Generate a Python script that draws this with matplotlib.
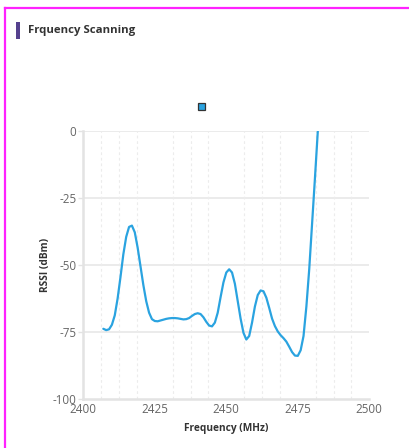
import matplotlib
matplotlib.use("Agg")
import matplotlib.pyplot as plt
from matplotlib.patches import Rectangle
from matplotlib.lines import Line2D
import numpy as np

plt.rcParams['font.family'] = ['Open Sans', 'DejaVu Sans']

# Data
freq = list(range(2407, 2483))
rssi = [-73.8, -74.3, -74.0, -72.3, -68.8, -62.5, -54.5, -46, -39.5, -35.8,
        -35.3, -37.8, -43.5, -50.5, -57.5, -63.5, -67.8, -70.2, -70.9, -71,
        -70.7, -70.4, -70.1, -69.9, -69.8, -69.8, -69.9, -70.1, -70.3, -70.2,
        -69.8, -69, -68.3, -68, -68.3, -69.5, -71.2, -72.6, -72.9, -71.5,
        -67.8, -62, -56.5, -52.8, -51.6, -52.8, -57, -63.5, -70, -75.3,
        -77.8, -76.5, -71.5, -65.5, -61.2, -59.5, -59.8, -62.2, -66, -70,
        -72.8, -74.8, -76.2, -77.3, -78.6, -80.5, -82.5, -83.8, -83.9, -81.8,
        -76.5, -65.5, -51.5, -34.5, -17.5, 0]
x_ticks = [2400, 2425, 2450, 2475, 2500]
y_ticks = [-100, -75, -50, -25, 0]
title = "Frquency Scanning"
x_label = "Frequency (MHz)"
y_label = "RSSI (dBm)"

W, H = 409, 448
fig = plt.figure(figsize=(W / 100, H / 100), dpi=100)

# card border (magenta)
fig.add_artist(Line2D([5 / W, 5 / W], [0, 1 - 8 / H], transform=fig.transFigure,
                      color='#ff22ff', lw=1.6))
fig.add_artist(Line2D([5 / W, 1], [1 - 8 / H, 1 - 8 / H], transform=fig.transFigure,
                      color='#ff22ff', lw=1.6))
# title bar + title
fig.add_artist(Rectangle((16 / W, 1 - 39 / H), 3.5 / W, 17 / H, transform=fig.transFigure,
                         color='#55418e', lw=0))
fig.text(28 / W, 1 - 31 / H, title, fontsize=8.2, fontweight='bold', color='#333333',
         va='center', ha='left')

ax = fig.add_axes([83.3 / W, 1 - 399 / H, (369.3 - 83.3) / W, (399 - 131) / H])
ax.plot(freq, rssi, color='#2aa3e0', lw=1.6, solid_capstyle='round',
        solid_joinstyle='round', clip_on=True)
ax.set_xlim(2400, 2500)
ax.set_ylim(-100, 0)
ax.set_xticks(x_ticks)
ax.set_yticks(y_ticks)
ax.set_xticklabels([str(v) for v in x_ticks])
ax.set_yticklabels([str(v) for v in y_ticks])

# grid
for yv in y_ticks[1:]:
    ax.axhline(yv, color='#ebebeb', lw=1.4, zorder=0)
minor = [2400 + 6.25 * k for k in range(1, 16) if k % 4 != 0]
for xv in minor:
    ax.axvline(xv, color='#ececec', lw=0.8, ls=(0, (2.5, 2.5)), zorder=0)

for s in ['top', 'right']:
    ax.spines[s].set_visible(False)
for s in ['left', 'bottom']:
    ax.spines[s].set_color('#e3e3e3')
    ax.spines[s].set_linewidth(1.8)
ax.tick_params(axis='y', length=3.5, width=1, color='#e3e3e3', labelsize=8.4,
               labelcolor='#666666', pad=1.5)
ax.tick_params(axis='x', length=0, labelsize=8.4, labelcolor='#666666', pad=3)

ax.set_xlabel(x_label, fontsize=7.3, fontweight='bold', color='#333333', labelpad=5)
ax.set_ylabel(y_label, fontsize=7.3, fontweight='bold', color='#333333', labelpad=1)

# legend marker
fig.add_artist(Rectangle((197.5 / W, 1 - 110.5 / H), 7 / W, 7 / H, transform=fig.transFigure,
                         facecolor='#2aa3e0', edgecolor='#333333', lw=0.9))

fig.savefig('out.png', dpi=100)
